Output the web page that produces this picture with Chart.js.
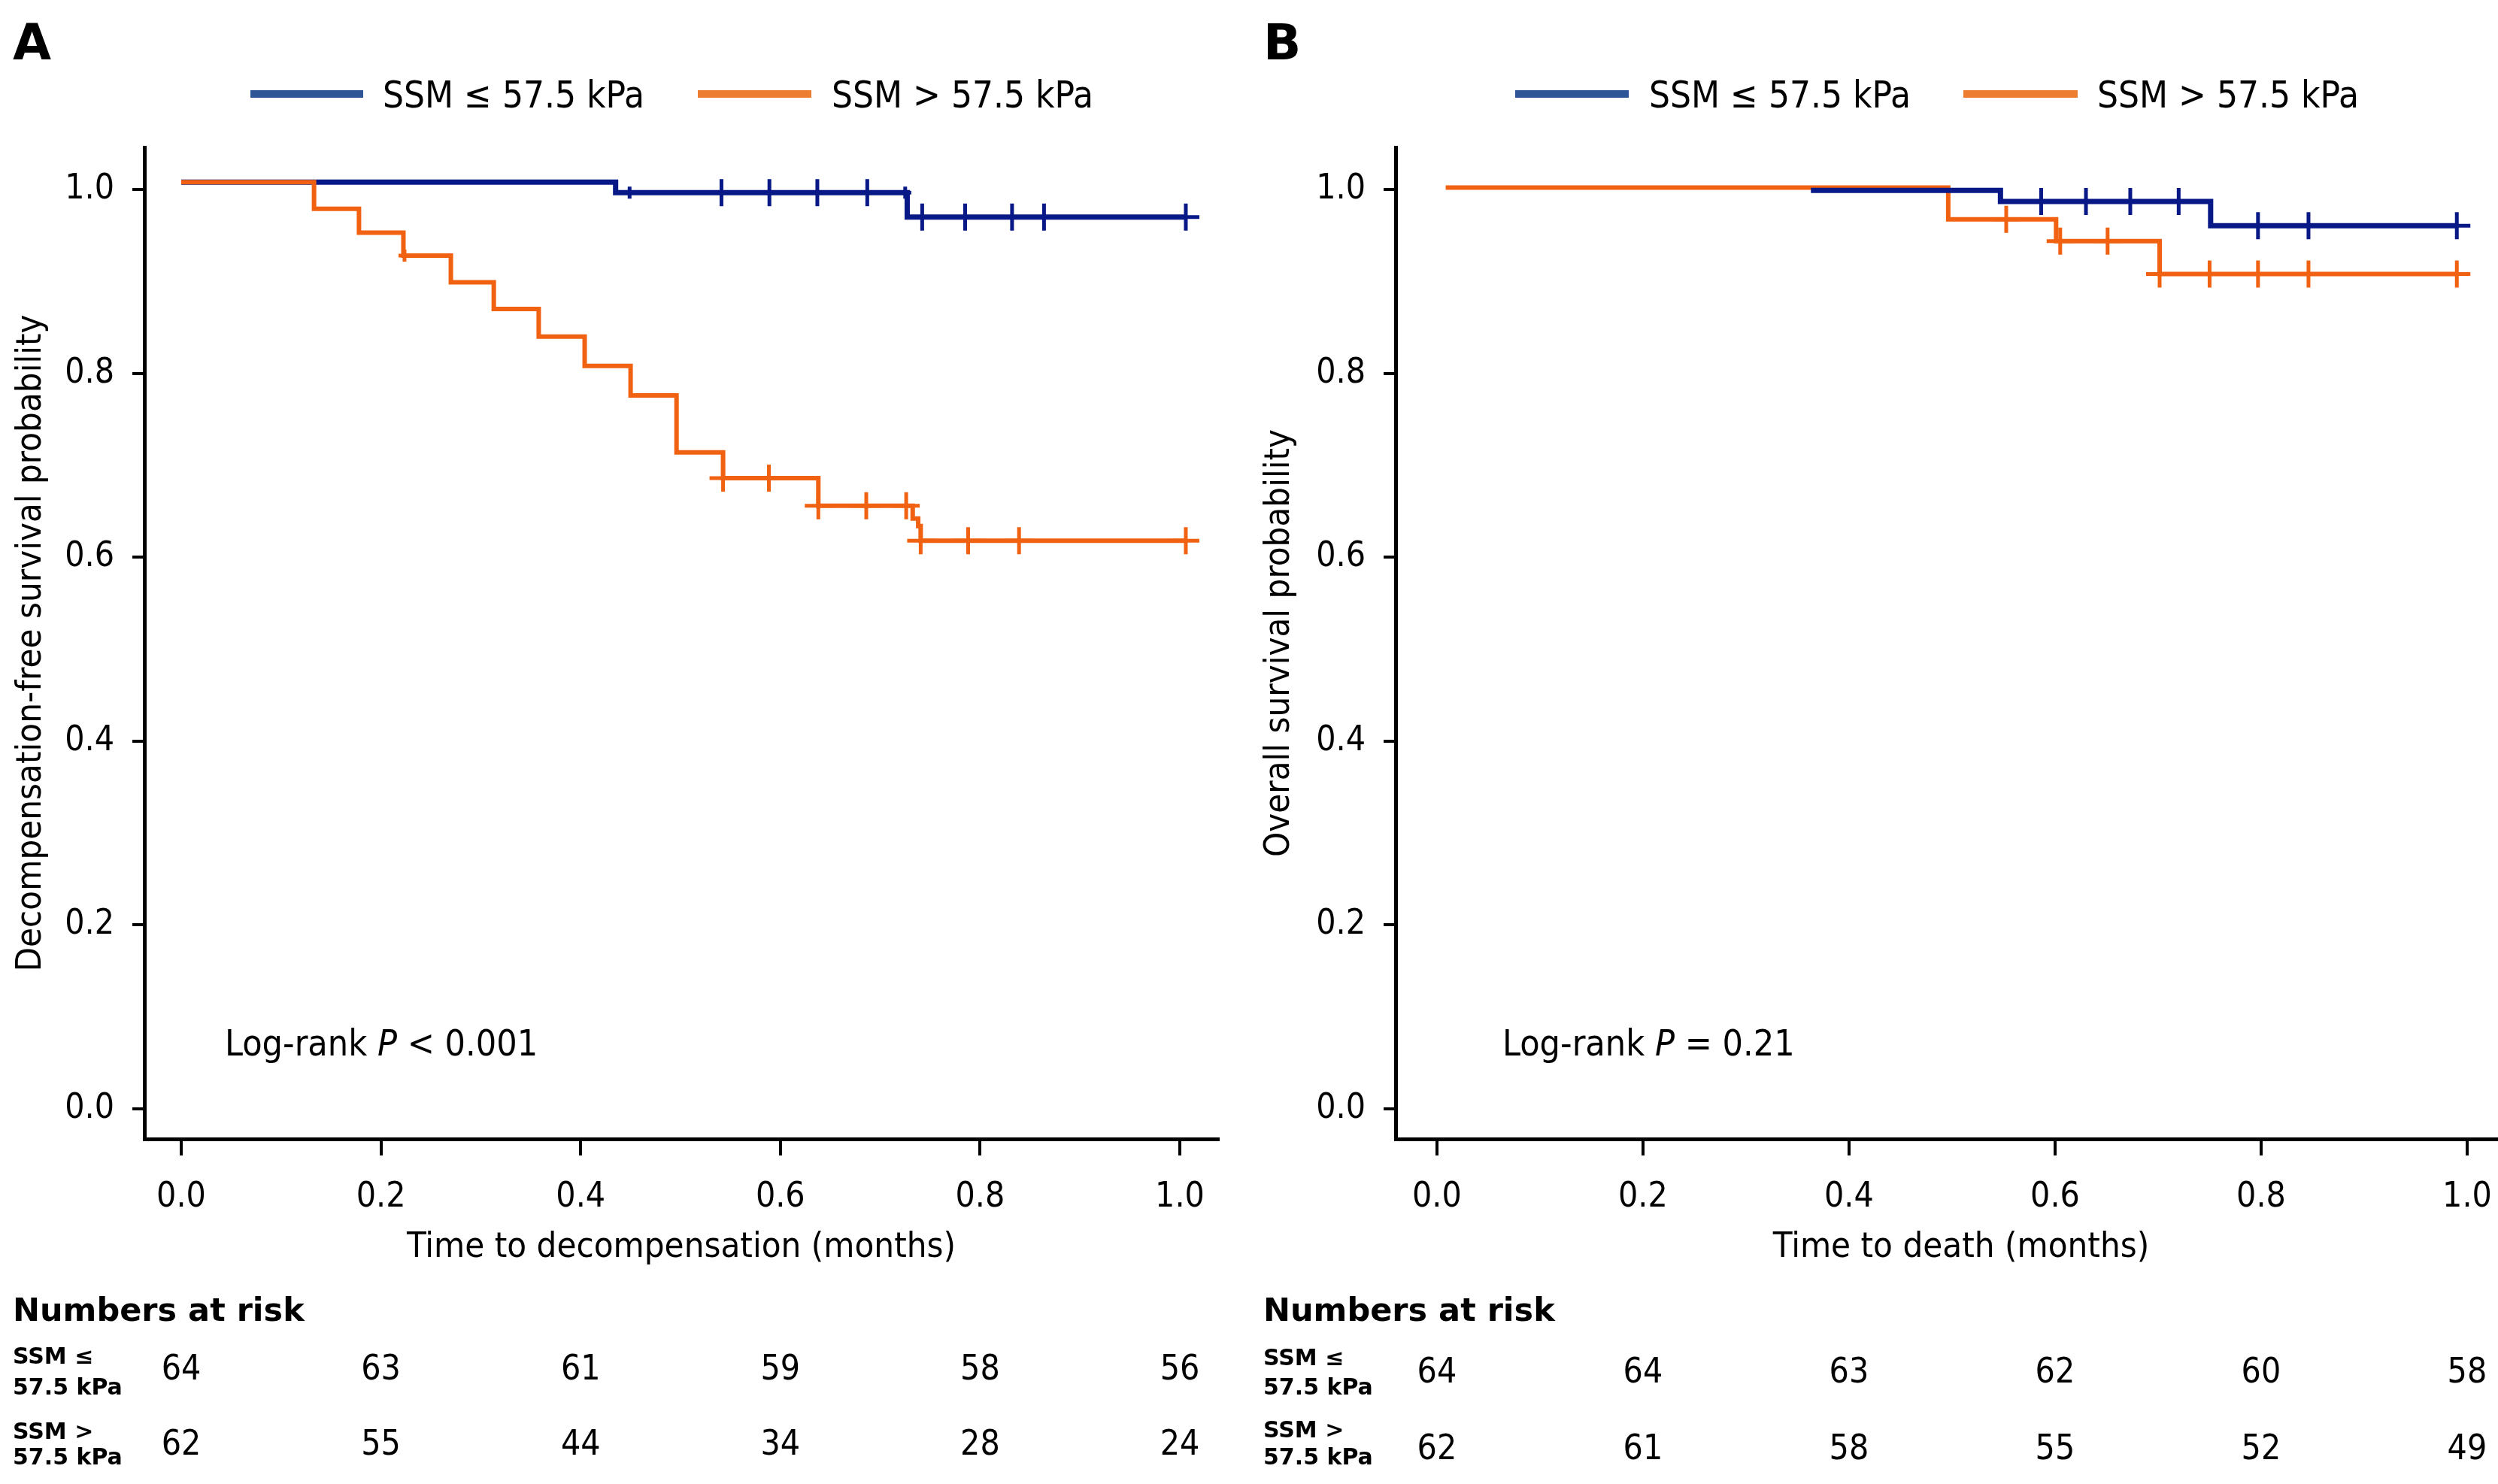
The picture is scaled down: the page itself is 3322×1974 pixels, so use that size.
<!DOCTYPE html>
<html>
<head>
<meta charset="utf-8">
<script src="https://cdn.jsdelivr.net/npm/chart.js@4.4.1/dist/chart.umd.min.js"></script>
<style>
  html, body { margin: 0; padding: 0; background: #fff; }
  body { width: 3322px; height: 1974px; position: relative; overflow: hidden;
         font-family: "DejaVu Sans Condensed", "DejaVu Sans", sans-serif; color: #000; }
  .panel { position: absolute; top: 0; height: 1974px; }
  .txt { position: absolute; white-space: nowrap; line-height: 1; }
  .letter { font-weight: bold; font-size: 66px; font-family: "DejaVu Sans", sans-serif; }
  .leg { font-size: 49px; }
  .legline { position: absolute; height: 10px; }
  .logrank { font-size: 48px; }
  .nar { font-weight: bold; font-size: 43px; font-family: "DejaVu Sans", sans-serif; }
  .rowlab { font-weight: bold; font-size: 30px; font-family: "DejaVu Sans", sans-serif; }
  .num { font-size: 46px; transform: translateX(-50%); }
</style>
</head>
<body>
<div class="panel" id="panelA" style="left:0;width:1660px;"><canvas id="chartA" width="1660" height="1974"></canvas></div>
<div class="panel" id="panelB" style="left:1660px;width:1740px;"><canvas id="chartB" width="1740" height="1974"></canvas></div>

<div class="txt letter" style="left:17px;top:24px;">A</div>
<div class="txt letter" style="left:1680px;top:24px;">B</div>

<div class="legline" style="left:333px;top:120px;width:150px;background:#2f5597;"></div>
<div class="txt leg" style="left:509px;top:102px;">SSM ≤ 57.5 kPa</div>
<div class="legline" style="left:928px;top:120px;width:151px;background:#ed7d31;"></div>
<div class="txt leg" style="left:1106px;top:102px;">SSM &gt; 57.5 kPa</div>

<div class="legline" style="left:2015px;top:120px;width:151px;background:#2f5597;"></div>
<div class="txt leg" style="left:2193px;top:102px;">SSM ≤ 57.5 kPa</div>
<div class="legline" style="left:2611px;top:120px;width:152px;background:#ed7d31;"></div>
<div class="txt leg" style="left:2789px;top:102px;">SSM &gt; 57.5 kPa</div>

<div class="txt logrank" style="left:299px;top:1363px;">Log-rank <i>P</i> &lt; 0.001</div>
<div class="txt logrank" style="left:1998px;top:1363px;">Log-rank <i>P</i> = 0.21</div>

<div class="txt nar" style="left:17px;top:1721px;">Numbers at risk</div>
<div class="txt rowlab" style="left:17px;top:1789px;">SSM ≤</div>
<div class="txt rowlab" style="left:17px;top:1830px;">57.5 kPa</div>
<div class="txt rowlab" style="left:17px;top:1889px;">SSM &gt;</div>
<div class="txt rowlab" style="left:17px;top:1923px;">57.5 kPa</div>

<div class="txt nar" style="left:1680px;top:1721px;">Numbers at risk</div>
<div class="txt rowlab" style="left:1680px;top:1791px;">SSM ≤</div>
<div class="txt rowlab" style="left:1680px;top:1830px;">57.5 kPa</div>
<div class="txt rowlab" style="left:1680px;top:1887px;">SSM &gt;</div>
<div class="txt rowlab" style="left:1680px;top:1923px;">57.5 kPa</div>

<script>
const FONT = '"DejaVu Sans Condensed", "DejaVu Sans", sans-serif';
const BLUE = 'rgb(8, 24, 135)';
const ORANGE = 'rgb(240, 98, 18)';

// ticks
const xTicks = [0.0, 0.2, 0.4, 0.6, 0.8, 1.0];
const yTicks = [0.0, 0.2, 0.4, 0.6, 0.8, 1.0];

// Panel A - decompensation
const blueTimeA = [0.0, 0.435, 0.727, 1.006];
const blueSurvA = [1.008, 0.9965, 0.970, 0.970];
const blueCensA = [0.541, 0.589, 0.637, 0.687, 0.742, 0.785, 0.832, 0.864, 1.006];
const blueMinorA = [0.449, 0.725];
const orangeTimeA = [0.0, 0.133, 0.178, 0.2225, 0.270, 0.313, 0.358, 0.404, 0.450, 0.496, 0.5426, 0.638, 0.7325, 0.738, 0.7405, 1.006];
const orangeSurvA = [1.008, 0.979, 0.953, 0.928, 0.899, 0.870, 0.840, 0.808, 0.776, 0.714, 0.686, 0.656, 0.642, 0.634, 0.618, 0.618];
const orangeCensA = [0.5426, 0.5885, 0.638, 0.686, 0.726, 0.7405, 0.788, 0.839, 1.006];
const orangeMinorA = [0.2236];

// Panel B - death (blue only visible from 0.363, orange covers it before)
const blueTimeB = [0.363, 0.547, 0.751, 0.990];
const blueSurvB = [0.999, 0.987, 0.9606, 0.9606];
const blueCensB = [0.5865, 0.630, 0.673, 0.720, 0.797, 0.846, 0.990];
const orangeTimeB = [0.0085, 0.4963, 0.601, 0.7015, 0.990];
const orangeSurvB = [1.002, 0.9675, 0.9437, 0.908, 0.908];
const orangeCensB = [0.5526, 0.605, 0.651, 0.7015, 0.750, 0.797, 0.846, 0.990];

// numbers at risk
const riskTimes = [0.0, 0.2, 0.4, 0.6, 0.8, 1.0];
const riskLowA = [64, 63, 61, 59, 58, 56];
const riskHighA = [62, 55, 44, 34, 28, 24];
const riskLowB = [64, 64, 63, 62, 60, 58];
const riskHighB = [62, 61, 58, 55, 52, 49];

function kmPoints(times, surv) {
  return times.map((t, i) => ({ x: t, y: surv[i] }));
}

function survAt(times, surv, t) {
  let s = surv[0];
  for (let i = 0; i < times.length; i++) {
    if (t >= times[i] - 1e-9) s = surv[i];
  }
  return s;
}

function censPoints(times, surv, cens) {
  return cens.map(t => ({ x: t, y: survAt(times, surv, t) }));
}

function lineSet(data, color, width, order) {
  return { type: 'line', data, borderColor: color, borderWidth: width, stepped: true,
           pointRadius: 0, fill: false, order };
}

function markSet(data, color, radius) {
  return { type: 'scatter', data, showLine: false, pointStyle: 'cross', pointRadius: radius,
           borderColor: color, backgroundColor: color, pointBorderWidth: 5, order: -1 };
}

function makeChart(id, p) {
  const ctx = document.getElementById(id).getContext('2d');
  return new Chart(ctx, {
    type: 'line',
    data: { datasets: p.datasets },
    options: {
      responsive: false,
      devicePixelRatio: 1,
      animation: false,
      events: [],
      layout: { padding: { left: 0, top: 196, right: 40, bottom: 259 } },
      plugins: { legend: { display: false }, tooltip: { enabled: false } },
      scales: {
        x: {
          type: 'linear', min: p.xMin, max: p.xMax,
          afterBuildTicks: s => { s.ticks = xTicks.map(v => ({ value: v })); },
          afterFit: s => { s.height = 200; },
          grid: { drawOnChartArea: false, drawTicks: true, tickLength: 22, color: '#000', lineWidth: 4 },
          border: { display: true, color: '#000', width: 5 },
          ticks: { autoSkip: false, maxRotation: 0, padding: 28, color: '#000',
                   font: { family: FONT, size: 46 }, callback: v => v.toFixed(1) },
          title: { display: true, text: p.xTitle, color: '#000',
                   font: { family: FONT, size: 47 }, padding: { top: 0, bottom: 27 } }
        },
        y: {
          type: 'linear', min: -0.0327, max: 1.0458,
          afterBuildTicks: s => { s.ticks = yTicks.map(v => ({ value: v })); },
          afterFit: s => { s.width = p.yWidth; },
          grid: { drawOnChartArea: false, drawTicks: true, tickLength: 16, color: '#000', lineWidth: 4 },
          border: { display: true, color: '#000', width: 5 },
          ticks: { padding: 24, color: '#000', font: { family: FONT, size: 46 },
                   callback: v => v.toFixed(1) },
          title: { display: true, text: p.yTitle, color: '#000',
                   font: { family: FONT, size: 47 }, padding: { top: 14, bottom: 14 } }
        }
      }
    }
  });
}

function placeRisk(chart, panelLeft, values, top) {
  const xs = chart.scales.x;
  riskTimes.forEach((t, i) => {
    const d = document.createElement('div');
    d.className = 'txt num';
    d.textContent = values[i];
    d.style.left = (panelLeft + xs.getPixelForValue(t)) + 'px';
    d.style.top = top + 'px';
    document.body.appendChild(d);
  });
}

const chartA = makeChart('chartA', {
  xMin: -0.0369, xMax: 1.0384, yWidth: 192,
  xTitle: 'Time to decompensation (months)',
  yTitle: 'Decompensation-free survival probability',
  datasets: [
    markSet(censPoints(orangeTimeA, orangeSurvA, orangeCensA), ORANGE, 18),
    markSet(censPoints(orangeTimeA, orangeSurvA, orangeMinorA), ORANGE, 8),
    markSet(censPoints(blueTimeA, blueSurvA, blueCensA), BLUE, 18),
    markSet(censPoints(blueTimeA, blueSurvA, blueMinorA), BLUE, 8),
    lineSet(kmPoints(orangeTimeA, orangeSurvA), ORANGE, 6, 0),
    lineSet(kmPoints(blueTimeA, blueSurvA), BLUE, 7, 1)
  ]
});

const chartB = makeChart('chartB', {
  xMin: -0.0401, xMax: 1.0577, yWidth: 196,
  xTitle: 'Time to death (months)',
  yTitle: 'Overall survival probability',
  datasets: [
    markSet(censPoints(orangeTimeB, orangeSurvB, orangeCensB), ORANGE, 18),
    markSet(censPoints(blueTimeB, blueSurvB, blueCensB), BLUE, 18),
    lineSet(kmPoints(blueTimeB, blueSurvB), BLUE, 7, 0),
    lineSet(kmPoints(orangeTimeB, orangeSurvB), ORANGE, 6, 1)
  ]
});

placeRisk(chartA, 0, riskLowA, 1796);
placeRisk(chartA, 0, riskHighA, 1896);
placeRisk(chartB, 1660, riskLowB, 1800);
placeRisk(chartB, 1660, riskHighB, 1902);
</script>
</body>
</html>
